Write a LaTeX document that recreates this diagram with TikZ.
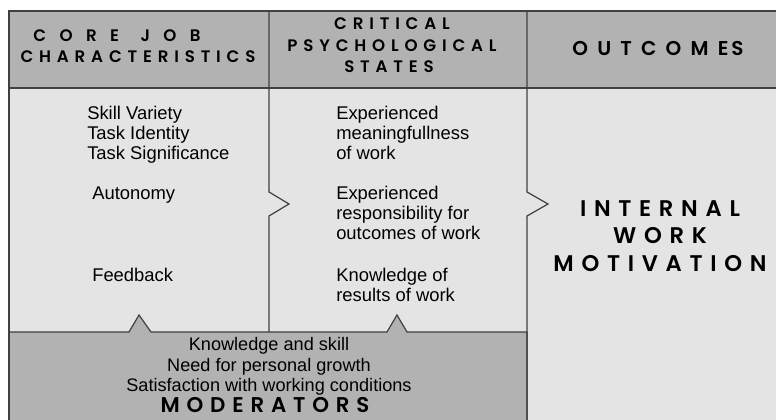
\documentclass[tikz,border=0pt]{standalone}
\usepackage{fontspec}
\setmainfont{Liberation Sans}
\newfontfamily\headfont{Poppins}[LetterSpace=35, BoldFont={Poppins SemiBold}]
\usetikzlibrary{calc}

\definecolor{bandgray}{gray}{0.70}
\definecolor{cellgray}{gray}{0.894}
\definecolor{rulegray}{gray}{0.25}

\tikzset{
  rule/.style={draw=rulegray, line width=0.9pt, line join=miter},
  item/.style={anchor=base west, inner sep=0pt, font=\fontsize{13.8}{15}\selectfont},
  moditem/.style={anchor=base, inner sep=0pt, font=\fontsize{13.6}{15}\selectfont},
  headtext/.style={anchor=base, inner sep=0pt, font=\headfont\bfseries\fontsize{12.5}{14}\selectfont},
  bighead/.style 2 args={anchor=base, inner sep=0pt,
    font=\headfont\bfseries\addfontfeature{LetterSpace=#2}\fontsize{#1}{#1}\selectfont},
}

\begin{document}
\begin{tikzpicture}[x=0.75pt, y=-0.75pt]
   \useasboundingbox (0,0) rectangle (776,420);
   \clip (0,0) rectangle (776,420);

   % bands and cells
   \fill[cellgray] (9,88) rectangle (800,440);
   \fill[bandgray] (9,11) rectangle (800,88);
   \path[rule, fill=bandgray] (9,440) -- (9,332) -- (129,332) -- (139,315) -- (151,332)
        -- (387,332) -- (397,315) -- (407,332) -- (527,332) -- (527,440);

   % frame and column dividers
   \draw[rule] (9,440) -- (9,11) -- (800,11);
   \draw[rule] (9,88) -- (800,88);
   \draw[rule] (269,11) -- (269,192) -- (289,204) -- (269,216) -- (269,332);
   \draw[rule] (527,11) -- (527,192) -- (548,204) -- (527,216) -- (527,440);

   % column heads
   \node[bighead={12.5}{80}] (core) at (117,42) {CORE\hspace{1.3em}JOB};
   \node[headtext] (chars) at (138,63) {CHARACTERISTICS};
   \node[headtext] (crit) at (392,30) {CRITICAL};
   \node[headtext] (psych) at (392,52) {PSYCHOLOGICAL};
   \node[headtext] (states) at (389,73) {STATES};
   \node[bighead={15}{46}] (outc) at (658,56) {OUTCOME\kern0.15em S};

   % core job characteristics
   \node[item] (skill) at (87,120) {Skill Variety};
   \node[item] (ident) at (87,140) {Task Identity};
   \node[item] (signif) at (87,160) {Task Significance};
   \node[item] (auto) at (92,200) {Autonomy};
   \node[item] (feed) at (92,282) {Feedback};

   % critical psychological states
   \node[item] (mean1) at (336,120) {Experienced};
   \node[item] (mean2) at (336,140) {meaningfullness};
   \node[item] (mean3) at (336,160) {of work};
   \node[item] (resp1) at (336,200) {Experienced};
   \node[item] (resp2) at (336,220) {responsibility for};
   \node[item] (resp3) at (336,240) {outcomes of work};
   \node[item] (know1) at (336,282) {Knowledge of};
   \node[item] (know2) at (336,302) {results of work};

   % outcome
   \node[bighead={17}{34}] (motiv1) at (660,217) {INTERNAL};
   \node[bighead={17}{34}] (motiv2) at (660,244) {WORK};
   \node[bighead={17}{34}] (motiv3) at (660,272) {MOTIVATION};

   % moderators
   \node[moditem] (mod1) at (269,351) {Knowledge and skill};
   \node[moditem] (mod2) at (269,372) {Need for personal growth};
   \node[moditem] (mod3) at (269,392) {Satisfaction with working conditions};
   \node[bighead={16}{32}] (modhead) at (265,413) {MODERATORS};
\end{tikzpicture}
\end{document}
